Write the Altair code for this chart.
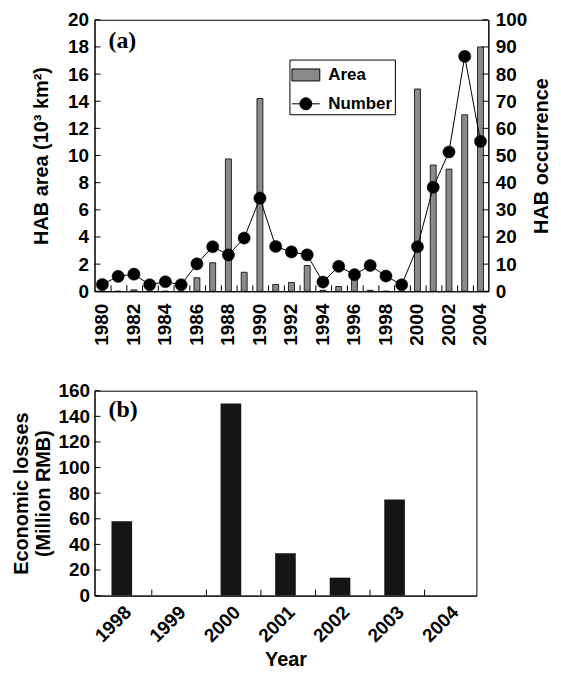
import altair as alt
import pandas as pd

# ---------------- data ----------------
years_a = [str(y) for y in range(1980, 2005)]
area = [0, 0, 0.1, 0, 0, 0, 1.0, 2.1, 9.75, 1.4, 14.2, 0.5, 0.65, 1.9,
        0.07, 0.35, 0.9, 0.07, 0, 0, 14.9, 9.3, 9.0, 13.0, 18.0]
number = [2.5, 5.5, 6.3, 2.4, 3.5, 2.4, 10.1, 16.4, 13.4, 19.6, 34.3, 16.5,
          14.5, 13.4, 3.4, 9.2, 6.1, 9.5, 5.6, 2.4, 16.4, 38.3, 51.3, 86.5, 55.2]
years_a_labels = years_a[::2]
years_b = [str(y) for y in range(1998, 2005)]
losses = [58, 0, 150, 33, 14, 75, 0]
area_ticks = list(range(0, 21, 2))
occ_ticks = list(range(0, 101, 10))
loss_ticks = list(range(0, 161, 20))
series_names = ["Area", "Number"]
panel_labels = ["(a)", "(b)"]

FONT = "Liberation Sans"
W1, H1 = 396, 273
W2, H2 = 384, 206
TICK = 6
RECT_PATH = "M-1,-0.43H1V0.43H-1Z"
LINEDOT_PATH = "M-1,0H1M-0.43,0A0.43,0.43,0,1,1,0.43,0A0.43,0.43,0,1,1,-0.43,0"

df_a = pd.DataFrame({"year": years_a, "area": area, "number": number,
                     "s_area": series_names[0], "s_num": series_names[1]})
df_b = pd.DataFrame({"year": years_b, "loss": losses})

ax_xa = alt.Axis(labelAngle=-90, labelPadding=12, ticks=False, values=years_a_labels)
ax_ya = alt.Axis(values=area_ticks, ticks=False, labelPadding=6,
                 title="HAB area (10³ km²)", titlePadding=16)
ax_yr = alt.Axis(orient="right", values=occ_ticks, ticks=False,
                 labelPadding=7, title="HAB occurrence", titlePadding=5,
                 titleAngle=270, titleBaseline="top")
ax_xb = alt.Axis(labelAngle=-45, labelPadding=7, ticks=False, titlePadding=4)
ax_yb = alt.Axis(values=loss_ticks, ticks=False, labelPadding=5,
                 title=["Economic losses", "(Million RMB)"], titlePadding=5)

sc_ya = alt.Scale(domain=[0, 20])
sc_yr = alt.Scale(domain=[0, 100])
sc_yb = alt.Scale(domain=[0, 160])

common_leg = dict(orient="none", legendX=196, padding=2, symbolSize=784,
                  labelFont=FONT, labelFontSize=17, labelFontWeight="bold",
                  labelColor="black", labelOffset=8, symbolStrokeColor="black",
                  symbolStrokeWidth=1, symbolOpacity=1)

legend_area = alt.Legend(title=None, legendY=39, symbolType=RECT_PATH,
                         zindex=2, **common_leg)
legend_num = alt.Legend(title=" ", titleFontSize=24, titlePadding=4,
                        titleOrient="top", legendY=40, symbolType=LINEDOT_PATH,
                        symbolFillColor="black", strokeColor="black",
                        fillColor="white", zindex=1, **common_leg)

base_a = alt.Chart(df_a)

bars = base_a.mark_bar(stroke="black", strokeWidth=0.8,
                       width=alt.RelativeBandSize(0.42)).encode(
    x=alt.X("year:O", title=None, axis=ax_xa),
    y=alt.Y("area:Q", scale=sc_ya, axis=ax_ya),
    fill=alt.Fill("s_area:N", scale=alt.Scale(domain=[series_names[0]], range=["#8a8a8a"]),
                  legend=legend_area),
)

lt_df = pd.DataFrame({"area": area_ticks})
left_ticks = alt.Chart(lt_df).mark_rule(color="black", strokeWidth=1).encode(
    y=alt.Y("area:Q", scale=sc_ya, axis=ax_ya),
    x=alt.value(0), x2=alt.value(TICK))

xt_df = pd.DataFrame({"year": years_a[1:]})
x_ticks_a = alt.Chart(xt_df).mark_rule(color="black", strokeWidth=1).encode(
    x=alt.X("year:O", bandPosition=0, title=None, axis=ax_xa),
    y=alt.value(H1 - TICK), y2=alt.value(H1))

lab_a = alt.Chart(pd.DataFrame({"t": [panel_labels[0]]})).mark_text(
    font="Liberation Serif", fontSize=24, fontWeight="bold", align="left",
    baseline="alphabetic", color="black").encode(
    text="t:N", x=alt.value(14), y=alt.value(28))

left = alt.layer(bars, left_ticks, x_ticks_a, lab_a)

yr = alt.Y("number:Q", scale=sc_yr, axis=ax_yr)
xa = alt.X("year:O", title=None, axis=ax_xa)
line = base_a.mark_line(color="black", strokeWidth=1).encode(x=xa, y=yr)
pts = base_a.mark_point(filled=True, fill="black", size=150, opacity=1,
                        strokeWidth=0.5).encode(
    x=xa, y=yr,
    stroke=alt.Stroke("s_num:N", scale=alt.Scale(domain=[series_names[1]], range=["#000000"]),
                      legend=legend_num))
rt_df = pd.DataFrame({"number": occ_ticks})
right_ticks = alt.Chart(rt_df).mark_rule(color="black", strokeWidth=1).encode(
    y=alt.Y("number:Q", scale=sc_yr, axis=ax_yr),
    x=alt.value(W1 - TICK), x2=alt.value(W1))

right = alt.layer(line, pts, right_ticks)

top = alt.layer(left, right).resolve_scale(y="independent").properties(
    width=W1, height=H1)

# ---------------- panel b ----------------
bars_b = alt.Chart(df_b).mark_bar(color="#151515",
                                  width=alt.RelativeBandSize(0.42)).encode(
    x=alt.X("year:O", title="Year", axis=ax_xb),
    y=alt.Y("loss:Q", scale=sc_yb, axis=ax_yb))
lb_df = pd.DataFrame({"loss": loss_ticks})
left_ticks_b = alt.Chart(lb_df).mark_rule(color="black", strokeWidth=1).encode(
    y=alt.Y("loss:Q", scale=sc_yb, axis=ax_yb),
    x=alt.value(0), x2=alt.value(TICK))
xtb_df = pd.DataFrame({"year": years_b[1:]})
x_ticks_b = alt.Chart(xtb_df).mark_rule(color="black", strokeWidth=1).encode(
    x=alt.X("year:O", bandPosition=0, title="Year", axis=ax_xb),
    y=alt.value(H2 - TICK), y2=alt.value(H2))
lab_b = alt.Chart(pd.DataFrame({"t": [panel_labels[1]]})).mark_text(
    font="Liberation Serif", fontSize=24, fontWeight="bold", align="left",
    baseline="alphabetic", color="black").encode(
    text="t:N", x=alt.value(14), y=alt.value(26))

bottom = alt.layer(bars_b, left_ticks_b, x_ticks_b, lab_b).properties(
    width=W2, height=H2)

chart = alt.vconcat(top, bottom, spacing=35).properties(
    padding={"left": 2, "top": 0, "right": 0, "bottom": 0}
).configure_view(stroke="black", strokeWidth=1).configure_axis(
    labelFont=FONT, labelFontSize=19, labelFontWeight="bold", labelColor="black",
    titleFont=FONT, titleFontSize=20, titleFontWeight="bold", titleColor="black",
    domainColor="black", domainWidth=1, grid=False
)

chart.save("out.html", embed_options={"renderer": "svg", "actions": False})
